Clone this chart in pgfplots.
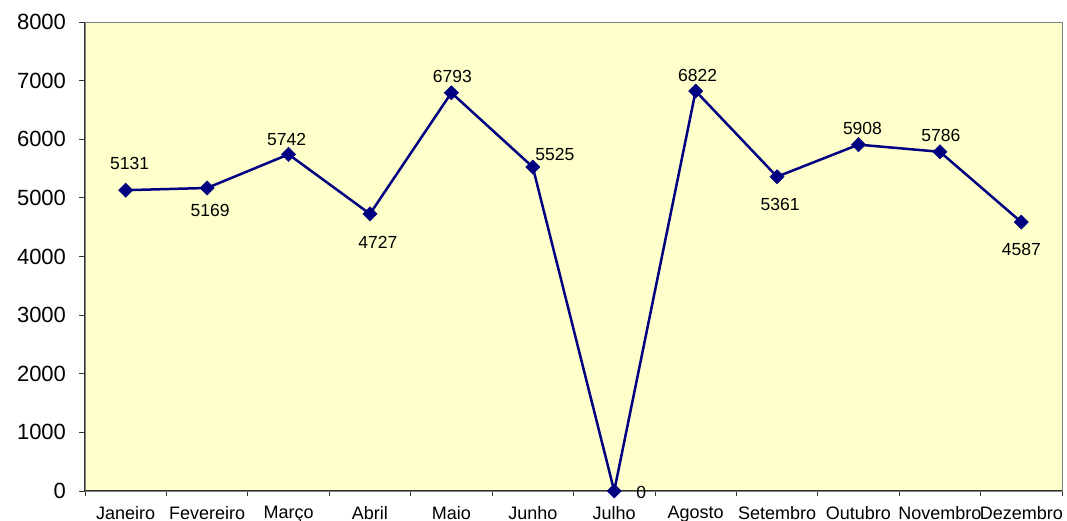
\documentclass[border=0pt]{standalone}
\usepackage{fontspec}
\setmainfont{Liberation Sans}
\usepackage{pgfplots}
\pgfplotsset{compat=1.18}
\usepackage{pgfplotstable}
\definecolor{bg}{RGB}{255,255,204}
\definecolor{navyline}{RGB}{0,0,128}
\pgfplotstableread{
x y dx dy lab
1 5131 4 27 5131
2 5169 3 -23 5169
3 5742 -2 15 5742
4 4727 8 -29 4727
5 6793 1 16 6793
6 5525 22 12.5 5525
7 0 27 -1 0
8 6822 2 16 6822
9 5361 3 -28 5361
10 5908 4 16 5908
11 5786 1 16 5786
12 4587 0 -27 4587
}\data
\begin{document}
\begin{tikzpicture}
\begin{axis}[
  scale only axis, width=977pt, height=469pt,
  xmin=0.5, xmax=12.5, ymin=0, ymax=8000,
  ytick={0,1000,...,8000},
  xtick={1,...,12},
  xticklabels={Janeiro,Fevereiro,Março,Abril,Maio,Junho,Julho,Agosto,Setembro,Outubro,Novembro,Dezembro},
  minor xtick={0.5,1.5,...,12.5},
  major x tick style={draw=none},
  tick align=outside, ytick pos=left, xtick pos=bottom,
  tick style={black!80, line width=0.8pt},
  major tick length=6pt, minor tick length=5pt,
  axis background/.style={fill=bg},
  axis line style={gray, line width=0.8pt},
  /pgf/number format/assume math mode=true,
  /pgf/number format/1000 sep={},
  yticklabel style={font=\fontsize{22}{24}\selectfont, xshift=-9.5pt},
  xticklabel style={font=\fontsize{18}{20}\selectfont, yshift=-6pt},
  clip=false,
]
\addplot[navyline, line width=2.5pt, mark=square*, mark size=5pt,
  mark options={rotate=45, fill=navyline, draw=navyline, line width=0.5pt},
  point meta=explicit symbolic,
  nodes near coords,
  visualization depends on={\thisrow{dx}\as\dx},
  visualization depends on={\thisrow{dy}\as\dy},
  every node near coord/.append style={anchor=center, xshift=\dx pt, yshift=\dy pt,
    font=\fontsize{17.5}{19}\selectfont, text=black, inner sep=0pt},
] table[x=x, y=y, meta=lab] {\data};
\draw[black!80, line width=1pt] (rel axis cs:0,1) -- (rel axis cs:0,0) -- (rel axis cs:1,0);
\coordinate (bl) at (rel axis cs:0,0);
\coordinate (tr) at (rel axis cs:1,1);
\end{axis}
\pgfresetboundingbox
\path ([shift={(-85pt,-30pt)}]bl) rectangle ([shift={(5pt,22pt)}]tr);
\end{tikzpicture}
\end{document}
